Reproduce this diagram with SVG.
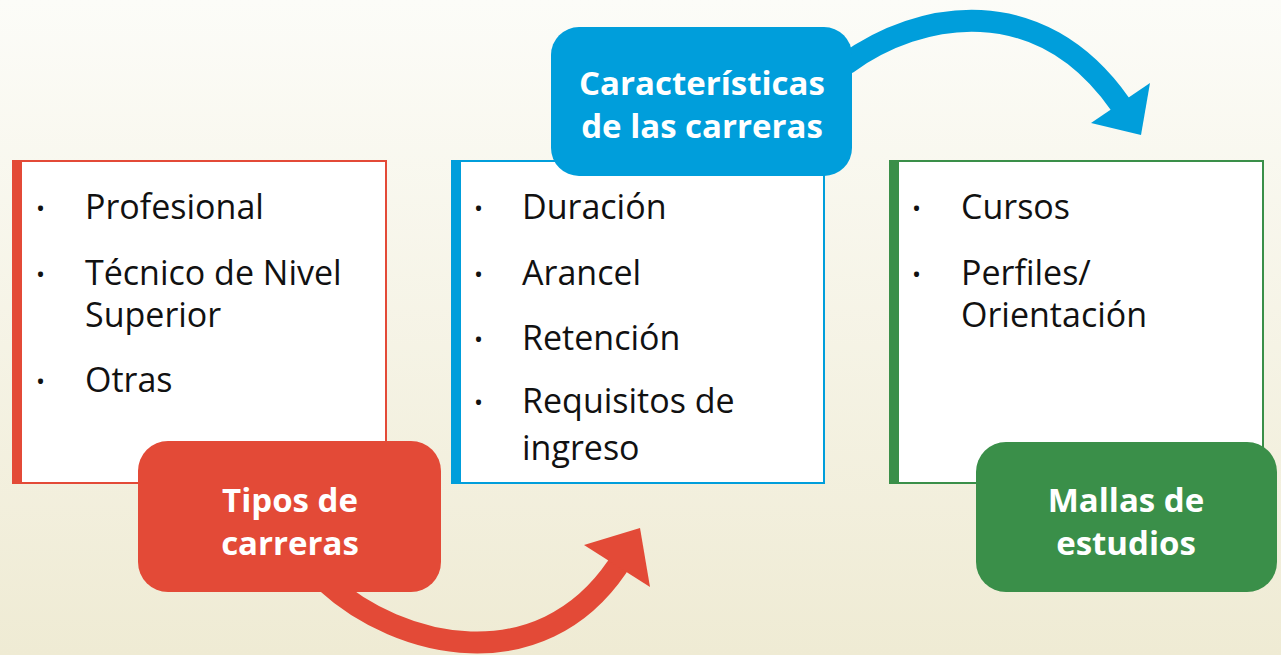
<svg xmlns="http://www.w3.org/2000/svg" width="1281" height="655" viewBox="0 0 1281 655">
<defs>
<linearGradient id="bg" x1="0" y1="0" x2="0" y2="1">
<stop offset="0" stop-color="#fcfcf8"/>
<stop offset="1" stop-color="#efebd4"/>
</linearGradient>
</defs>
<style>
.item{font-family:"Open Sans","Liberation Sans",sans-serif;font-size:34px;fill:#111}
.bul{font-family:"Open Sans","Liberation Sans",sans-serif;font-size:24px;fill:#111}
.lbl{font-family:"Open Sans","Liberation Sans",sans-serif;font-size:33px;font-weight:bold;fill:#fff;text-anchor:middle}
.box{fill:#fff;stroke-width:2}
.shaft{fill:none;stroke-width:22}
</style>
<rect width="1281" height="655" fill="url(#bg)"/>
<g id="connectors">
<path class="shaft" stroke="#e34a37" d="M326 582 C400 650 540 680 617 567 L624 556"/>
<polygon fill="#e34a37" points="584,545 640,528 650,587"/>
<path class="shaft" stroke="#009edb" d="M846 64 C920 10 1040 -10 1120 104 L1126 113"/>
<polygon fill="#009edb" points="1091,123 1150,83 1141,135"/>
</g>
<g id="tipos">
<rect class="box" stroke="#e34a37" x="17" y="161" width="369" height="322"/>
<rect fill="#e34a37" x="12" y="160" width="10" height="324"/>
<text class="bul" x="36" y="217">•</text>
<text class="bul" x="36" y="283">•</text>
<text class="bul" x="36" y="390">•</text>
<text class="item" x="85" y="219">Profesional</text>
<text class="item" x="85" y="285">Técnico de Nivel<tspan x="85" dy="42">Superior</tspan></text>
<text class="item" x="85" y="392">Otras</text>
<rect fill="#e34a37" x="138" y="441" width="303" height="151" rx="30"/>
<text class="lbl" x="290" y="512">Tipos de<tspan x="290" dy="43">carreras</tspan></text>
</g>
<g id="caracteristicas">
<rect class="box" stroke="#009edb" x="456" y="161" width="368" height="322"/>
<rect fill="#009edb" x="451" y="160" width="10" height="324"/>
<text class="bul" x="474" y="217">•</text>
<text class="bul" x="474" y="283">•</text>
<text class="bul" x="474" y="348">•</text>
<text class="bul" x="474" y="411">•</text>
<text class="item" x="522" y="219">Duración</text>
<text class="item" x="522" y="285">Arancel</text>
<text class="item" x="522" y="350">Retención</text>
<text class="item" x="522" y="413">Requisitos de<tspan x="522" dy="47">ingreso</tspan></text>
<rect fill="#009edb" x="551" y="27" width="301" height="149" rx="28"/>
<text class="lbl" x="702" y="95">Características<tspan x="702" dy="43">de las carreras</tspan></text>
</g>
<g id="mallas">
<rect class="box" stroke="#3a8f49" x="894" y="161" width="369" height="322"/>
<rect fill="#3a8f49" x="889" y="160" width="10" height="324"/>
<text class="bul" x="912" y="217">•</text>
<text class="bul" x="912" y="283">•</text>
<text class="item" x="961" y="219">Cursos</text>
<text class="item" x="961" y="285">Perfiles/<tspan x="961" dy="42">Orientación</tspan></text>
<rect fill="#3a8f49" x="976" y="442" width="301" height="150" rx="30"/>
<text class="lbl" x="1126" y="512">Mallas de<tspan x="1126" dy="43">estudios</tspan></text>
</g>
</svg>
